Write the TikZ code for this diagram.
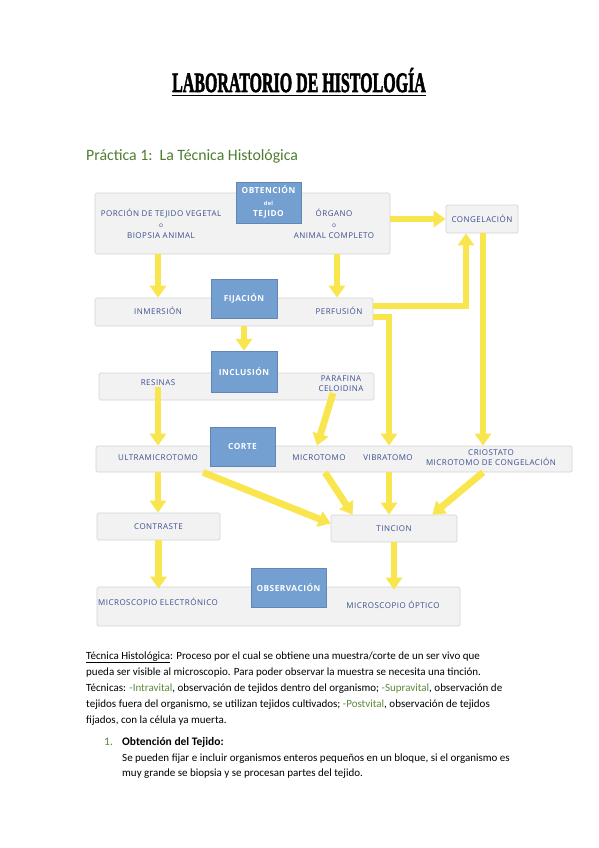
\documentclass[tikz,border=0pt]{standalone}
\usepackage{fontspec}
\setmainfont{Carlito}
\newfontfamily\dfont[LetterSpace=6]{Open Sans}
\newfontfamily\tfont[BoldFont={Liberation Serif Bold}, BoldFeatures={FakeBold=2.5}]{Liberation Serif}
\usetikzlibrary{arrows.meta,calc}
\definecolor{boxfill}{HTML}{F2F2F2}
\definecolor{boxline}{HTML}{D4D4D4}
\definecolor{bluefill}{HTML}{739FD1}
\definecolor{dtextc}{HTML}{3A4F8E}
\definecolor{yel}{HTML}{F9E64F}
\definecolor{headgreen}{HTML}{4F7D2F}
\definecolor{bodygreen}{HTML}{5B8A3A}
\newcommand{\gr}[1]{\textcolor{bodygreen}{#1}}
\tikzset{
  gbox/.style={draw=boxline, fill=boxfill, rounded corners=1.5pt, line width=0.7pt, inner sep=0pt},
  bbox/.style={fill=bluefill, draw=bluefill!85!black, line width=0.4pt, inner sep=0pt, text=white,
    font=\dfont\bfseries\fontsize{8.3}{11.5}\selectfont, align=center},
  dtext/.style={text=dtextc, font=\dfont\fontsize{8}{11}\selectfont, align=center, inner sep=1pt},
  ya/.style={draw=yel, line width=6.8pt, -{Triangle[width=16pt,length=12pt]}},
  bodyline/.style={anchor=base west, inner sep=0pt, font=\fontsize{11}{13}\selectfont},
}
\newcommand{\smallo}{{\fontsize{6.5}{6}\selectfont o}}
\begin{document}
\begin{tikzpicture}[x=1pt,y=-1pt]
\fill[white] (0,0) rectangle (599,848);
\useasboundingbox (0,0) rectangle (599,848);

% title
\node[anchor=base, inner sep=0pt] (title) at (299,92)
  {\scalebox{0.57}[1]{\tfont\bfseries\fontsize{28}{28}\selectfont LABORATORIO DE HISTOLOGÍA}};
\draw[line width=1.4pt] ([yshift=-3.5pt]title.base west) -- ([yshift=-3.5pt]title.base east);
\node[anchor=base west, inner sep=0pt, text=headgreen, font=\fontsize{15.8}{18}\selectfont] (sub) at (86,160)
  {Práctica 1:\ \ La Técnica Histológica};

% gray boxes
\node[gbox, minimum width=295pt, minimum height=61pt] (obt) at (242.5,223.5) {};
\node[gbox, minimum width=72pt, minimum height=28pt] (cong) at (482,219) {};
\node[gbox, minimum width=278pt, minimum height=28pt] (fij) at (234,312) {};
\node[gbox, minimum width=275pt, minimum height=27pt] (inc) at (236.5,386.5) {};
\node[gbox, minimum width=476pt, minimum height=26pt] (cort) at (334,459) {};
\node[gbox, minimum width=123pt, minimum height=27pt] (contr) at (158.5,526.5) {};
\node[gbox, minimum width=126pt, minimum height=27pt] (tin) at (394,528.5) {};
\node[gbox, minimum width=363pt, minimum height=39pt] (obs) at (278.5,606.5) {};

% texts in gray boxes
\node[dtext] (porc) at (161,224) {PORCIÓN DE TEJIDO VEGETAL\\\smallo\\BIOPSIA ANIMAL};
\node[dtext] (org) at (334,224) {ÓRGANO\\\smallo\\ANIMAL COMPLETO};
\node[dtext] (congt) at (cong) {CONGELACIÓN};
\node[dtext] (inm) at (158,311) {INMERSIÓN};
\node[dtext] (perf) at (339,311) {PERFUSIÓN};
\node[dtext] (res) at (158,383) {RESINAS};
\node[dtext, font=\dfont\fontsize{8}{10}\selectfont] (paraf) at (341,384) {PARAFINA\\CELOIDINA};
\node[dtext] (ultra) at (158,458) {ULTRAMICROTOMO};
\node[dtext] (micro) at (319,458) {MICROTOMO};
\node[dtext] (vib) at (388,458) {VIBRATOMO};
\node[dtext, font=\dfont\fontsize{8}{10}\selectfont] (crio) at (491,458) {CRIOSTATO\\MICROTOMO DE CONGELACIÓN};
\node[dtext] (contrt) at (contr) {CONTRASTE};
\node[dtext] (tint) at (tin) {TINCION};
\node[dtext] (mel) at (158,602) {MICROSCOPIO ELECTRÓNICO};
\node[dtext] (mop) at (393,605) {MICROSCOPIO ÓPTICO};

% blue boxes
\node[bbox, minimum width=65pt, minimum height=41pt] (obtb) at (268.5,202.5)
  {OBTENCIÓN\\{\fontsize{5.5}{6}\selectfont del}\\TEJIDO};
\node[bbox, minimum width=66pt, minimum height=39pt] (fijb) at (244,298.5) {FIJACIÓN};
\node[bbox, minimum width=66pt, minimum height=41pt] (incb) at (244,371.5) {INCLUSIÓN};
\node[bbox, minimum width=65pt, minimum height=39pt] (cortb) at (242.5,446.5) {CORTE};
\node[bbox, minimum width=75pt, minimum height=39pt] (obsb) at (288.5,587.5) {OBSERVACIÓN};

% arrows
\draw[ya] (obt.east |- cong.west) -- (cong.west);
\draw[ya] (obt.south -| inm) -- (fij.north -| inm);
\draw[ya] ($(obt.south -| perf)+(-2,0)$) -- ($(fij.north -| perf)+(-2,0)$);
\draw[ya] (fij.south -| fijb) -- (incb.north);
\draw[ya] ([yshift=6pt]fij.east) -| ([xshift=-16pt]cong.south);
\draw[ya] ([yshift=-5pt]fij.east) -| ($(cort.north -| vib)+(1,0)$);
\draw[ya] ([xshift=1pt]cong.south) -- ([xshift=1pt]cong.south |- cort.north);
\draw[ya] (res.south) -- (cort.north -| res);
\draw[ya] ($(paraf.south)+(-8,0)$) -- ($(cort.north -| micro)+(-2,0)$);
\draw[ya] ($(cort.south -| ultra)+(45,0)$) -- ([yshift=5pt]tin.west);
\draw[ya] ($(cort.south -| micro)+(6,0)$) -- ($(tin.north west)+(22,0)$);
\draw[ya] ($(cort.south -| vib)+(1,0)$) -- ($(tin.north -| vib)+(1,0)$);
\draw[ya] ($(cort.south -| crio)+(-8,0)$) -- ($(tin.north east)+(-25,0)$);
\draw[ya] (cort.south -| ultra) -- (contr.north -| ultra);
\draw[ya] (contr.south) -- ($(obs.north -| contr)+(0,2)$);
\draw[ya] (tin.south) -- ($(obs.north -| tin)+(0,3)$);

% body text
\node[bodyline] (l1) at (86,659) {\underline{Técnica Histológica}: Proceso por el cual se obtiene una muestra/corte de un ser vivo que};
\node[bodyline] (l2) at (86,675) {pueda ser visible al microscopio. Para poder observar la muestra se necesita una tinción.};
\node[bodyline] (l3) at (86,691) {Técnicas: \gr{-Intravital}, observación de tejidos dentro del organismo; \gr{-Supravital}, observación de};
\node[bodyline] (l4) at (86,707) {tejidos fuera del organismo, se utilizan tejidos cultivados; \gr{-Postvital}, observación de tejidos};
\node[bodyline] (l5) at (86,723) {fijados, con la célula ya muerta.};
\node[bodyline, font=\fontsize{11.5}{13}\selectfont] (h1n) at (104,745) {\gr{1.}};
\node[bodyline, font=\fontsize{11.5}{13}\selectfont\bfseries] (h1) at (122,745) {Obtención del Tejido:};
\node[bodyline] (l6) at (122,761) {Se pueden fijar e incluir organismos enteros pequeños en un bloque, si el organismo es};
\node[bodyline] (l7) at (122,776) {muy grande se biopsia y se procesan partes del tejido.};
\end{tikzpicture}
\end{document}
